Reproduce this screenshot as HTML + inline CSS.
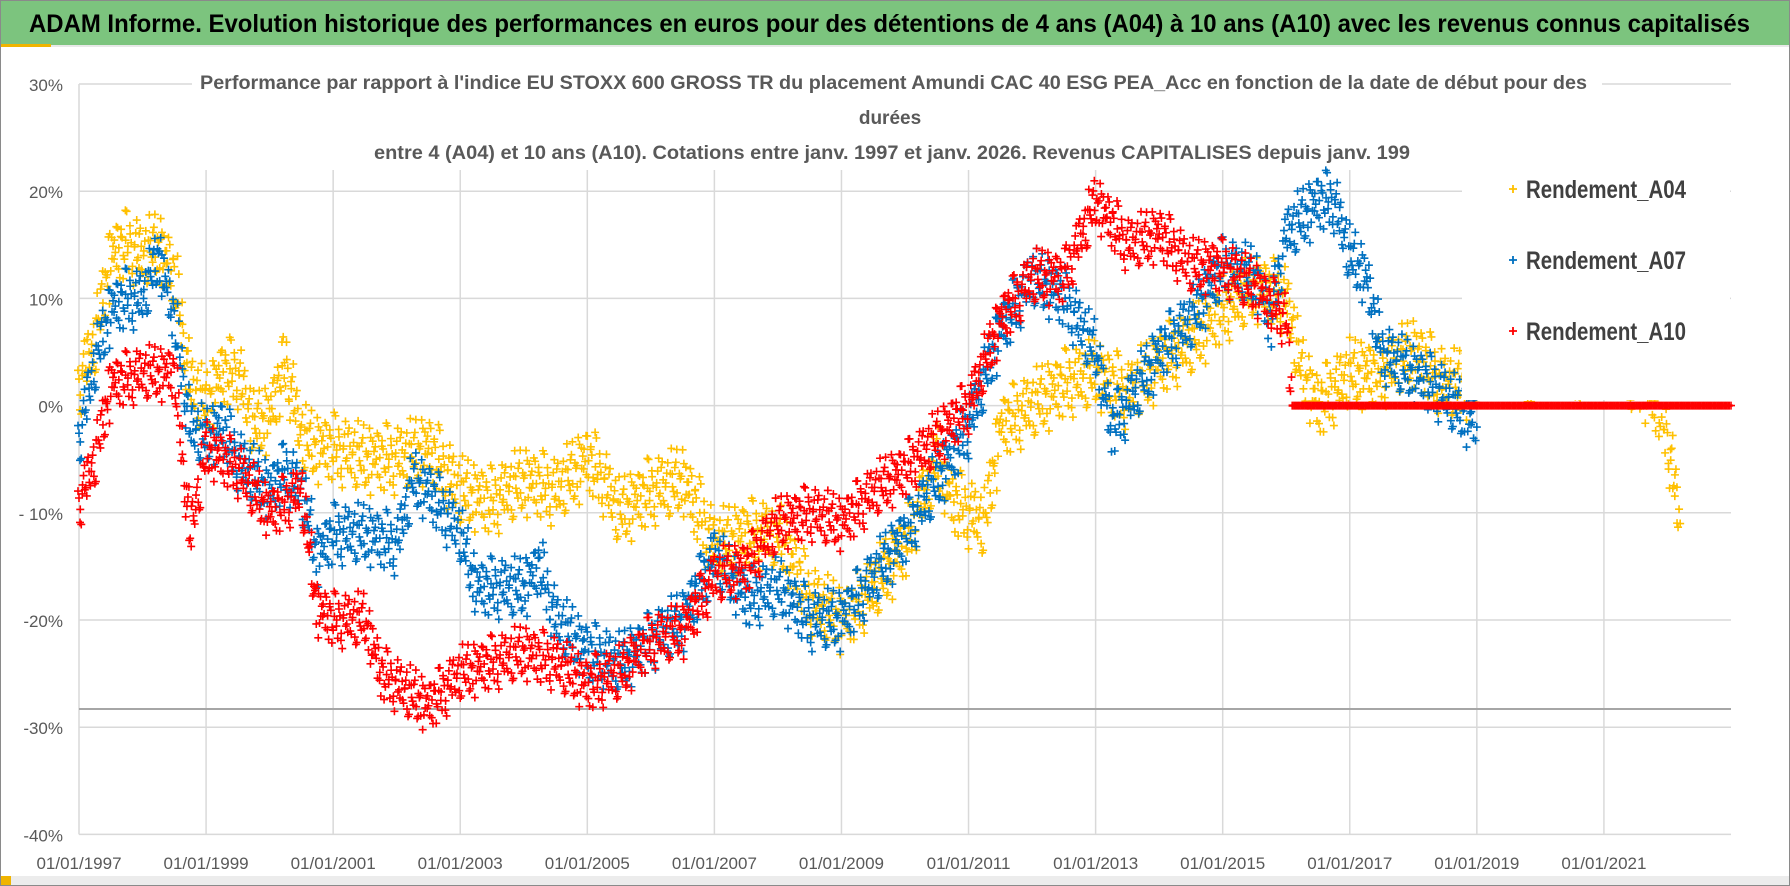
<!DOCTYPE html>
<html><head><meta charset="utf-8"><style>
html,body{margin:0;padding:0;background:#fff;}
svg{display:block;}
text{font-family:"Liberation Sans Narrow","Liberation Sans",sans-serif;}
</style></head><body>
<svg id="chart" width="1790" height="886" viewBox="0 0 1790 886">
<rect x="0.5" y="0.5" width="1789" height="885" fill="#fff" stroke="#8a8a8a"/>
<rect x="1" y="1" width="1788" height="44" fill="#7cc47e"/>
<rect x="1" y="44" width="50" height="3" fill="#f0b400"/>
<rect x="51" y="45" width="1738" height="2" fill="#e8e8e8"/>
<text x="29" y="32" font-size="25" font-weight="bold" fill="#000" textLength="1721" lengthAdjust="spacingAndGlyphs">ADAM Informe. Evolution historique des performances en euros pour des détentions de 4 ans (A04) à 10 ans (A10) avec les revenus connus capitalisés</text>
<g id="grid"></g>
<g id="yaxis"></g>
<g id="xaxis"></g>
<g id="marks"></g>
<rect x="1462" y="160" width="268" height="240" fill="#fff"/>
<g id="legend"></g>
<g>
<rect x="192" y="66" width="1410" height="100" fill="#fff"/>
<text x="200" y="89" font-size="19" font-weight="bold" fill="#595959" textLength="1387" lengthAdjust="spacingAndGlyphs">Performance par rapport à l'indice EU STOXX 600 GROSS TR  du placement Amundi CAC 40 ESG PEA_Acc en fonction de la date de début pour des</text>
<text x="890" y="124" font-size="19" font-weight="bold" fill="#595959" text-anchor="middle">durées</text>
<text x="374" y="159" font-size="19" font-weight="bold" fill="#595959" textLength="1036" lengthAdjust="spacingAndGlyphs">entre 4 (A04) et 10 ans (A10).  Cotations entre janv. 1997 et janv. 2026. Revenus CAPITALISES depuis janv. 199</text>
</g>
<rect x="1" y="876" width="1788" height="9" fill="#ececec"/>
<rect x="1" y="876" width="10" height="9" fill="#f0b400"/>
</svg>
<script>
const yTicks=[30,20,10,0,-10,-20,-30,-40];
const yTickLabels=["30%","20%","10%","0%","- 10%","-20%","-30%","-40%"];
const xTicks=[1997,1999,2001,2003,2005,2007,2009,2011,2013,2015,2017,2019,2021];
const xTickLabels=["01/01/1997","01/01/1999","01/01/2001","01/01/2003","01/01/2005","01/01/2007","01/01/2009","01/01/2011","01/01/2013","01/01/2015","01/01/2017","01/01/2019","01/01/2021"];
const refLine=-28.3;
const yearsA04=[1997,1997.25,1997.5,1997.75,1998,1998.25,1998.5,1998.75,1999,1999.25,1999.5,1999.75,2000,2000.25,2000.5,2000.75,2001,2001.5,2002,2002.5,2002.75,2003,2003.5,2004,2004.5,2005,2005.25,2005.5,2006,2006.5,2007,2007.5,2008,2008.5,2009,2009.5,2010,2010.5,2010.75,2011,2011.25,2011.5,2012,2012.5,2013,2013.5,2014,2014.5,2015,2015.5,2016,2016.25,2016.5,2017,2017.5,2018,2018.5,2019,2019.3,2019.8,2019.95,2020.3,2020.55,2020.7,2021,2021.3,2021.6,2021.85,2022,2022.1,2022.2];
const valuesA04=[2,6,14,15,14,15,12,2,0,3,3,-2,-1,4,-3,-4,-4,-5,-5,-4,-6,-8,-9,-7,-8,-5,-7,-10,-8,-7,-13,-12,-12,-18,-20,-17,-13,-5,-9,-10,-11,-2,0,2,3,1,4,6,9,11,10,3,0,3,3,5,2,2,null,3,4,null,3,4,null,3,2,0,-3,-7,-11];
const yearsA07=[1997,1997.25,1997.5,1997.75,1998,1998.25,1998.5,1998.75,1999,1999.25,1999.5,2000,2000.25,2000.5,2000.75,2001,2001.5,2002,2002.25,2002.5,2002.75,2003,2003.25,2003.5,2004,2004.25,2004.5,2005,2005.5,2006,2006.5,2007,2007.5,2008,2008.5,2009,2009.5,2010,2010.5,2011,2011.5,2012,2012.5,2013,2013.25,2013.5,2014,2014.5,2015,2015.5,2015.75,2016,2016.5,2016.75,2017,2017.25,2017.5,2018,2018.5,2019];
const valuesA07=[-3,4,9,10,10,14,8,-2,-3,-2,-5,-8,-6,-8,-14,-12,-12,-13,-7,-8,-10,-12,-17,-17,-17,-15,-20,-23,-24,-22,-20,-14,-18,-17,-20,-20,-16,-12,-7,-2,7,12,10,5,-2,0,5,8,13,12,8,16,19,19,14,12,5,3,1,-2];
const yearsA10=[1997,1997.25,1997.5,1998,1998.5,1998.75,1999,1999.5,2000,2000.5,2000.75,2001,2001.5,2001.75,2002,2002.5,2003,2003.5,2004,2004.5,2005,2005.5,2006,2006.5,2007,2007.5,2008,2008.5,2009,2009.5,2010,2010.5,2011,2011.5,2012,2012.5,2013,2013.25,2013.5,2014,2014.5,2015,2015.5,2016,2016.1,2023];
const valuesA10=[-9,-5,2,3,3,-12,-4,-6,-10,-8,-19,-20,-20,-25,-26,-28,-25,-24,-23,-24,-26,-25,-22,-21,-16,-15,-11,-10,-11,-8,-6,-3,0,8,12,12,19,17,15,16,13,13,11,8,0,0];
const spreadA04=[2.4];const spreadA07=[2.1];const spreadA10=[1.9];
const X0=79,X1=1731,Y30=84,PX10=107.2;
function xs(yr){return X0+(yr-1997)*(X1-X0)/26;}
function ys(v){return Y30+(30-v)*PX10/10;}
const NS="http://www.w3.org/2000/svg";
function mk(tag,attrs,parent){const e=document.createElementNS(NS,tag);for(const k in attrs)e.setAttribute(k,attrs[k]);parent.appendChild(e);return e;}
const grid=document.getElementById('grid'),ya=document.getElementById('yaxis'),xa=document.getElementById('xaxis'),marks=document.getElementById('marks'),leg=document.getElementById('legend');
yTicks.forEach((v,i)=>{
 const l=mk('line',{x1:X0,x2:X1,y1:ys(v),y2:ys(v),stroke:'#d9d9d9','stroke-width':1.5},grid);
 
 
 const t=mk('text',{x:63,y:ys(v)+7,'font-size':17,fill:'#595959','text-anchor':'end'},ya);
 t.textContent=yTickLabels[i];
 
 
});
xTicks.forEach((yr,i)=>{
 if(i>0){const l=mk('line',{x1:xs(yr),x2:xs(yr),y1:170,y2:ys(-40),stroke:'#d9d9d9','stroke-width':1.5},grid);
 
 }
 const t=mk('text',{x:xs(yr),y:869,'font-size':17,fill:'#595959','text-anchor':'middle'},xa);
 t.textContent=xTickLabels[i];
 
 
});
const yl=mk('line',{x1:X0,x2:X0,y1:ys(30),y2:ys(-40),stroke:'#d9d9d9','stroke-width':1.5},grid);


const rl=mk('line',{x1:X0,x2:X1,y1:ys(refLine),y2:ys(refLine),stroke:'#a6a6a6','stroke-width':2},grid);


const jit=[0,0.9,-1.1,0.4,-0.5,1.3,-0.9,0.2,-1.4,0.7,-0.2,1.0,-0.7,0.5,-1.2,1.4,-0.3,0.8,-1.0,0.1,1.2,-0.6,0.3];
function cross(x,y,col,g,w){
 mk('path',{d:`M${x-4} ${y}H${x+4}M${x} ${y-4}V${y+4}`,stroke:col,'stroke-width':w},g);
}
function series(years,vals,spread,col,name){
 const g=mk('g',{},marks);
 
 
 let k=0;
 for(let i=0;i<years.length-1;i++){
  if(vals[i]==null||vals[i+1]==null)continue;
  const xa0=xs(years[i]),xb=xs(years[i+1]);
  const n=Math.max(1,Math.round((xb-xa0)/2.2));
  const flat=vals[i]===vals[i+1]&&vals[i]===0&&name==='series-a10';
  for(let j=0;j<n;j++){
   const f=j/n,v=vals[i]+(vals[i+1]-vals[i])*f;
   const s=flat?0:spread[0];
   k=(k+7)%23;
   cross(xa0+(xb-xa0)*f,ys(v+jit[k]*s),col,g,flat?2.4:1.6);
   if(!flat){
    k=(k+11)%23;cross(xa0+(xb-xa0)*f+1,ys(v+jit[k]*s),col,g,1.6);
    k=(k+6)%23;cross(xa0+(xb-xa0)*f-1,ys(v+jit[k]*s*0.6),col,g,1.6);
   }
  }
 }
 years.forEach((yr,i)=>{if(vals[i]!=null&&(i==years.length-1||vals[i+1]==null))cross(xs(yr),ys(vals[i]),col,g,1.6);});
}
series(yearsA04,valuesA04,spreadA04,'#ffc000','series-a04');
series(yearsA07,valuesA07,spreadA07,'#0070c0','series-a07');
series(yearsA10,valuesA10,spreadA10,'#ff0000','series-a10');
const legNames=["Rendement_A04","Rendement_A07","Rendement_A10"],legCols=['#ffc000','#0070c0','#ff0000'],legY=[189,260,331];
legNames.forEach((n,i)=>{
 const g=mk('g',{},leg);
 
 
 cross(1513,legY[i],legCols[i],g,1.8);
 const t=mk('text',{x:1526,y:legY[i]+9,'font-size':25,'font-weight':'bold',fill:'#404040',textLength:160,lengthAdjust:'spacingAndGlyphs'},g);
 t.textContent=n;
});
</script>
</body></html>
